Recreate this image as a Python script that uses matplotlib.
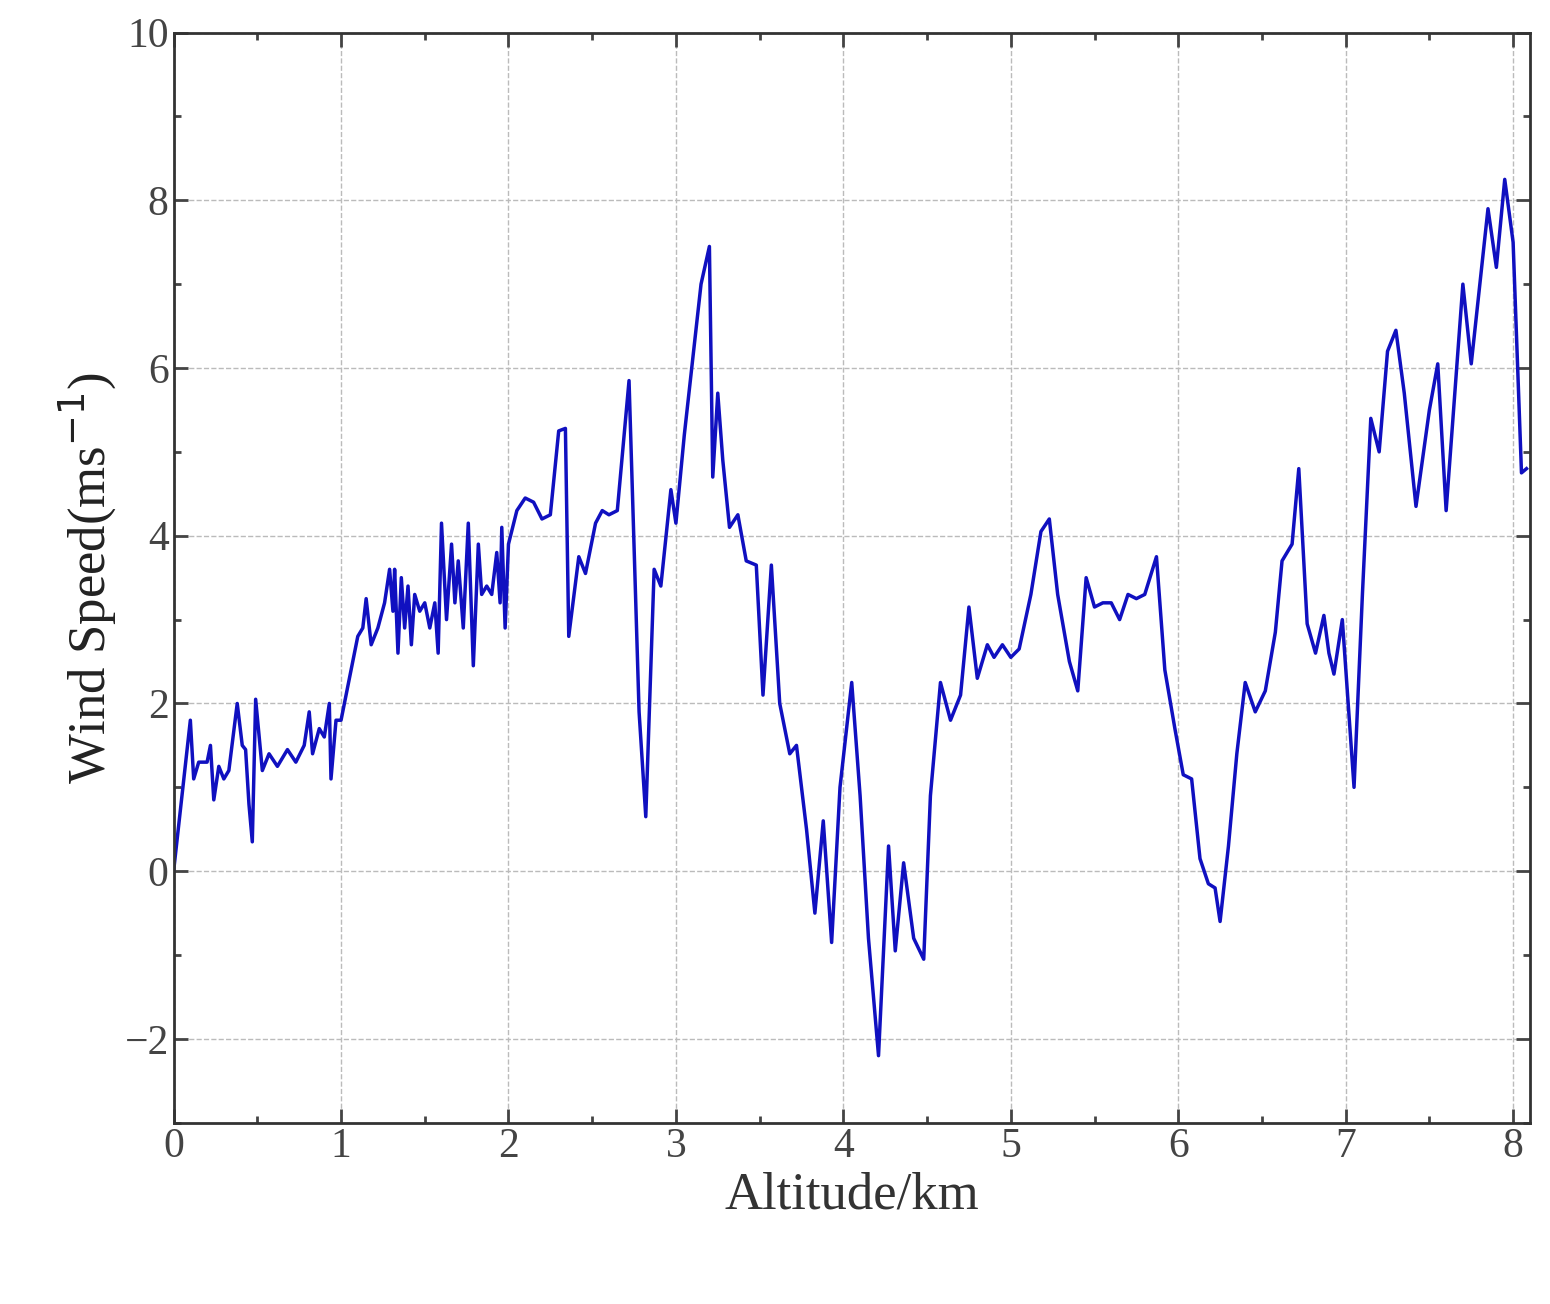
import matplotlib.pyplot as plt
from matplotlib.ticker import MultipleLocator

altitude = [0, 0.05, 0.1, 0.12, 0.15, 0.2, 0.22, 0.24, 0.27, 0.3, 0.33, 0.38, 0.41, 0.43, 0.45, 0.47, 0.49,
            0.53, 0.57, 0.62, 0.68, 0.73, 0.78, 0.81, 0.83, 0.87, 0.9, 0.93, 0.94, 0.97, 1.0, 1.05, 1.1,
            1.13, 1.15, 1.18, 1.22, 1.26, 1.29, 1.31, 1.32, 1.34, 1.36, 1.38, 1.40, 1.42, 1.44, 1.47, 1.5,
            1.53, 1.56, 1.58, 1.60, 1.63, 1.66, 1.68, 1.70, 1.73, 1.76, 1.79, 1.82, 1.84, 1.87, 1.9, 1.93,
            1.95, 1.96, 1.98, 2.0, 2.05, 2.1, 2.15, 2.2, 2.25, 2.3, 2.34, 2.36, 2.42, 2.46, 2.52, 2.56,
            2.6, 2.65, 2.72, 2.78, 2.82, 2.87, 2.91, 2.97, 3.0, 3.05, 3.15, 3.2, 3.22, 3.25, 3.28, 3.32,
            3.37, 3.42, 3.48, 3.52, 3.57, 3.62, 3.68, 3.72, 3.78, 3.83, 3.88, 3.93, 3.98, 4.05, 4.1, 4.15,
            4.21, 4.27, 4.31, 4.36, 4.42, 4.48, 4.52, 4.58, 4.64, 4.7, 4.75, 4.8, 4.86, 4.9, 4.95, 5.0,
            5.05, 5.12, 5.18, 5.23, 5.28, 5.35, 5.4, 5.45, 5.5, 5.55, 5.6, 5.65, 5.7, 5.75, 5.8, 5.87,
            5.92, 5.98, 6.03, 6.08, 6.13, 6.18, 6.22, 6.25, 6.3, 6.35, 6.4, 6.46, 6.52, 6.58, 6.62, 6.68,
            6.72, 6.77, 6.82, 6.87, 6.9, 6.93, 6.98, 7.05, 7.1, 7.15, 7.2, 7.25, 7.3, 7.35, 7.42, 7.5,
            7.55, 7.6, 7.7, 7.75, 7.85, 7.9, 7.95, 8.0, 8.05, 8.08]
speed = [0, 0.9, 1.8, 1.1, 1.3, 1.3, 1.5, 0.85, 1.25, 1.1, 1.2, 2.0, 1.5, 1.45, 0.8, 0.35, 2.05,
         1.2, 1.4, 1.25, 1.45, 1.3, 1.5, 1.9, 1.4, 1.7, 1.6, 2.0, 1.1, 1.8, 1.8, 2.3, 2.8,
         2.9, 3.25, 2.7, 2.9, 3.2, 3.6, 3.1, 3.6, 2.6, 3.5, 2.9, 3.4, 2.7, 3.3, 3.1, 3.2,
         2.9, 3.2, 2.6, 4.15, 3.0, 3.9, 3.2, 3.7, 2.9, 4.15, 2.45, 3.9, 3.3, 3.4, 3.3, 3.8,
         3.2, 4.1, 2.9, 3.9, 4.3, 4.45, 4.4, 4.2, 4.25, 5.25, 5.28, 2.8, 3.75, 3.55, 4.15, 4.3,
         4.25, 4.3, 5.85, 1.9, 0.65, 3.6, 3.4, 4.55, 4.15, 5.2, 7.0, 7.45, 4.7, 5.7, 4.9, 4.1,
         4.25, 3.7, 3.65, 2.1, 3.65, 2.0, 1.4, 1.5, 0.5, -0.5, 0.6, -0.85, 1.0, 2.25, 0.9, -0.8,
         -2.2, 0.3, -0.95, 0.1, -0.8, -1.05, 0.9, 2.25, 1.8, 2.1, 3.15, 2.3, 2.7, 2.55, 2.7, 2.55,
         2.65, 3.3, 4.05, 4.2, 3.3, 2.5, 2.15, 3.5, 3.15, 3.2, 3.2, 3.0, 3.3, 3.25, 3.3, 3.75,
         2.4, 1.7, 1.15, 1.1, 0.15, -0.15, -0.2, -0.6, 0.3, 1.4, 2.25, 1.9, 2.15, 2.85, 3.7, 3.9,
         4.8, 2.95, 2.6, 3.05, 2.6, 2.35, 3.0, 1.0, 3.3, 5.4, 5.0, 6.2, 6.45, 5.7, 4.35, 5.5,
         6.05, 4.3, 7.0, 6.05, 7.9, 7.2, 8.25, 7.5, 4.75, 4.8]

plt.rcParams['font.family'] = ['Liberation Serif']
fig = plt.figure(figsize=(15.5, 13.04), dpi=100)
ax = fig.add_axes([0.112, 0.139, 0.875, 0.836])
ax.plot(altitude, speed, color='#1010c0', lw=2.5)
ax.set_xlim(0, 8.1)
ax.set_ylim(-3, 10)
ax.xaxis.set_major_locator(MultipleLocator(1))
ax.xaxis.set_minor_locator(MultipleLocator(0.5))
ax.yaxis.set_major_locator(MultipleLocator(2))
ax.yaxis.set_minor_locator(MultipleLocator(1))
ax.grid(True, which='major', ls='--', color='#bbbbbb', lw=1)
ax.tick_params(which='both', direction='in', top=True, right=True, labelsize=30, width=2, colors='#444444')
ax.tick_params(which='major', length=10)
ax.tick_params(which='minor', length=5)
for s in ax.spines.values():
    s.set_linewidth(2)
    s.set_color('#333333')
ax.set_xlabel('Altitude/km', fontsize=38, color='#333333')
ax.set_ylabel('Wind Speed(ms$^{-1}$)', fontsize=38, color='#222222')
fig.savefig('out.png')
